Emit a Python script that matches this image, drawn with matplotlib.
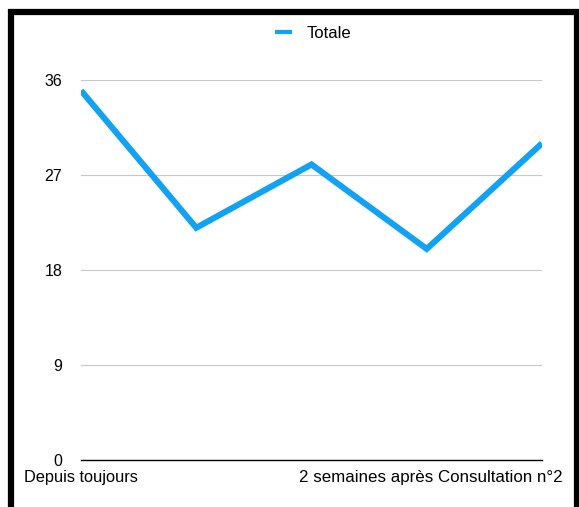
import matplotlib.pyplot as plt
from matplotlib.patches import Rectangle

plt.rcParams['font.family'] = ['Liberation Sans', 'DejaVu Sans']

# data
categories = ["Depuis toujours", "", "", "", "2 semaines après Consultation n°2"]
totale = [35, 22, 28, 20, 30]
y_ticks = [0, 9, 18, 27, 36]
series_name = "Totale"

line_color = "#12A2F4"

fig = plt.figure(figsize=(5.79, 5.07), dpi=100)
W, H = 579, 507

# plot area in pixels: x 81..542, y 80 (36) .. 460 (0)
ax = fig.add_axes([81 / W, (H - 460) / H, (542 - 81) / W, (460 - 80) / H])

x = list(range(len(totale)))
ax.plot(x, totale, color=line_color, linewidth=4.4, solid_joinstyle='miter',
        solid_capstyle='butt', label=series_name, zorder=3)

ax.set_xlim(0, len(totale) - 1)
ax.set_ylim(0, 36)
ax.set_yticks(y_ticks)
ax.set_yticklabels([str(v) for v in y_ticks], fontsize=11.5)
ax.tick_params(axis='y', length=0, pad=13.5)
ax.yaxis.grid(True, color='#c8c8c8', linewidth=0.8)
ax.set_axisbelow(True)

for side in ['top', 'right', 'left']:
    ax.spines[side].set_visible(False)
ax.spines['bottom'].set_color('black')
ax.spines['bottom'].set_linewidth(1.0)
ax.spines['bottom'].set_zorder(4)

# only first and last category labels shown; last one fitted inside the frame
ax.set_xticks([])
ax.annotate(categories[0], xy=(0, 0), xycoords='data', xytext=(0, -7),
            textcoords='offset points', ha='center', va='top', fontsize=11.8)
ax.annotate(categories[-1], xy=(len(totale) - 1, 0), xycoords='data', xytext=(15, -7),
            textcoords='offset points', ha='right', va='top', fontsize=12.2)

leg = fig.legend(loc='center', bbox_to_anchor=(313 / W, 1 - 33 / H), frameon=False,
                 fontsize=12, handlelength=1.0, handletextpad=0.9)
leg.get_lines()[0].set_linewidth(3.0)

# black frame around the chart (left, top, right)
fig.add_artist(Rectangle((11 / W, -0.05), (577 - 11) / W, (H - 12) / H + 0.05,
                         transform=fig.transFigure, fill=False, edgecolor='black',
                         linewidth=4.5, zorder=10))

fig.savefig("out.png", dpi=100)
